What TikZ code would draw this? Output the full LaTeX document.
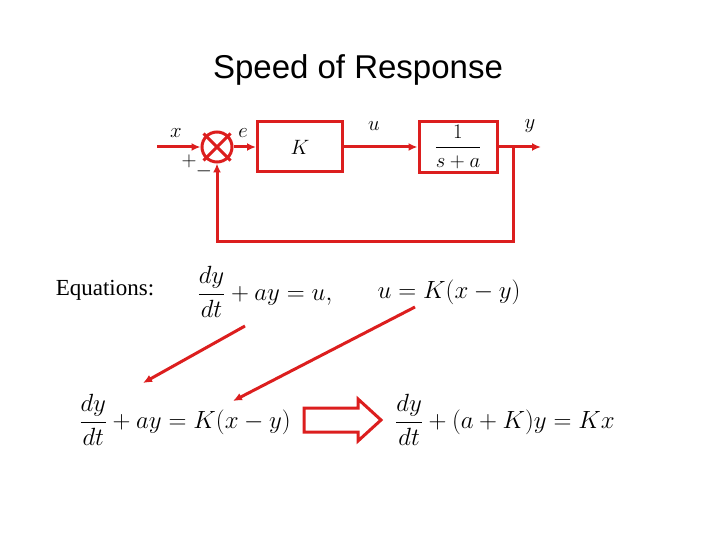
\documentclass[tikz,border=0pt]{standalone}
\usepackage{fontspec}
\usepackage{amsmath}
\setmainfont{Liberation Serif}
\newfontfamily\titlefont{Liberation Sans}
\usetikzlibrary{arrows.meta,shapes.misc}
\definecolor{sigred}{RGB}{220,30,30}
\begin{document}
\begin{tikzpicture}[x=1pt,y=-1pt,
  sig/.style={draw=sigred, line width=3pt},
  blk/.style={draw=sigred, line width=3pt, minimum width=85pt, minimum height=50pt},
  arr/.style={-{Latex[length=9pt,width=8pt]}},
  lbl/.style={font=\fontsize{22}{24}\selectfont}]
\useasboundingbox (0,0) rectangle (720,540);
\def\ysig{147}
\def\ybot{241}

% title
\node (title) at (358,70) {\titlefont\fontsize{33}{36}\selectfont Speed of Response};

% block diagram
\node[sig, circle, cross out, draw, minimum size=24pt] (sum) at (217,\ysig) {};
\node[sig, circle, minimum size=30pt] (sumc) at (217,\ysig) {};
\node[blk] (k) at (300,\ysig) {\fontsize{22}{24}\selectfont$K$};
\node[blk, minimum width=78pt, minimum height=51pt] (g) at (458,\ysig) {\fontsize{21}{23}\selectfont$\dfrac{1}{s+a}$};
\coordinate (in) at (157,\ysig);
\coordinate (out) at (541,\ysig);
\coordinate (tap) at (513,\ysig);
\draw[sig, arr, sigred] (in) -- (sumc);
\draw[sig, arr, sigred] (sumc) -- (k);
\draw[sig, arr, sigred] (k) -- (g);
\draw[sig, arr, sigred] (g) -- (out);
\draw[sig, arr, sigred] (tap) -- (513,\ybot) -- (217,\ybot) -- (sumc.south);

\node[lbl] (lx) at (176,133) {$x$};
\node[lbl] (le) at (243,133) {$e$};
\node[lbl] (lu) at (374,126) {$u$};
\node[lbl] (ly) at (530,126) {$y$};
\node[lbl] (lp) at (189,161) {$+$};
\node[lbl] (lm) at (204,171) {$-$};

% equations
\node (eqlbl) at (105,290) {\fontsize{23}{27}\selectfont Equations:};
\node (eq1) at (265,292) {\fontsize{23}{27}\selectfont$\dfrac{dy}{dt}+ay=u,$};
\node (eq2) at (449,292) {\fontsize{23}{27}\selectfont$u=K(x-y)$};
\node (eq3) at (185,420) {\fontsize{23}{27}\selectfont$\dfrac{dy}{dt}+ay=K(x-y)$};
\node (eq4) at (505,420) {\fontsize{23}{27}\selectfont$\dfrac{dy}{dt}+(a+K)y=Kx$};

\coordinate (s1) at (245,326);
\coordinate (e1) at (143,383);
\coordinate (s2) at (415,307);
\coordinate (e2) at (233,401);
\draw[sig, arr, sigred] (s1) -- (e1);
\draw[sig, arr, sigred] (s2) -- (e2);

% big hollow arrow
\draw[draw=sigred, line width=3pt, fill=white]
  (304,408) -- (358,408) -- (358,399) -- (381,420) -- (358,441) -- (358,432) -- (304,432) -- cycle;
\end{tikzpicture}
\end{document}
